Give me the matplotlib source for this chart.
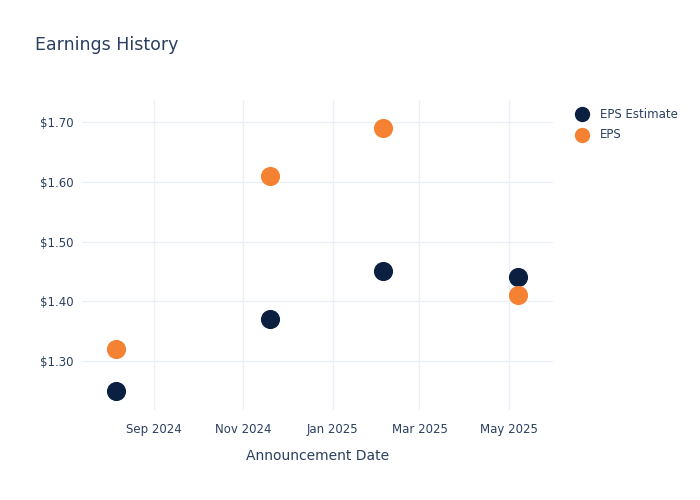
import matplotlib
matplotlib.use("Agg")
import matplotlib.pyplot as plt
import matplotlib.dates as mdates
import numpy as np
import pandas as pd

# Data
dates = pd.to_datetime(["2024-08-06", "2024-11-19", "2025-02-04", "2025-05-07"])
epsEstimate = [1.25, 1.37, 1.45, 1.44]
epsActual = [1.32, 1.61, 1.69, 1.41]
yTicks = [1.30, 1.40, 1.50, 1.60, 1.70]
xTicks = pd.to_datetime(["2024-09-01", "2024-11-01", "2025-01-01", "2025-03-01", "2025-05-01"])

textColor = "#2a3f5f"
gridColor = "#ebf0f8"
navy = "#0b1f41"
orange = "#f58233"

fig = plt.figure(figsize=(7, 5), dpi=100)
ax = fig.add_axes([0.117, 0.18, 0.673, 0.62])

ax.scatter(dates, epsEstimate, s=190, color=navy, label="EPS Estimate", zorder=3, linewidths=0)
ax.scatter(dates, epsActual, s=190, color=orange, label="EPS", zorder=3, linewidths=0)

ax.set_xlim(pd.Timestamp("2024-07-14"), pd.Timestamp("2025-05-31"))
ax.set_ylim(1.218, 1.737)

ax.set_xticks(xTicks)
ax.xaxis.set_major_formatter(mdates.DateFormatter("%b %Y"))
ax.set_yticks(yTicks)
ax.set_yticklabels(["${:.2f}".format(v) for v in yTicks])

ax.grid(True, color=gridColor, linewidth=1)
ax.set_axisbelow(True)
for side in ax.spines.values():
    side.set_visible(False)
ax.tick_params(length=0, labelsize=8.5, labelcolor=textColor, pad=6)
ax.tick_params(axis="x", pad=9.5)

ax.set_xlabel("Announcement Date", fontsize=10, color=textColor, labelpad=9)

fig.text(0.05, 0.91, "Earnings History", fontsize=12.5, color=textColor, va="center")

leg = ax.legend(loc="upper left", bbox_to_anchor=(1.015, 1.01), frameon=False,
                fontsize=8.5, labelcolor=textColor, handletextpad=0.5,
                labelspacing=0.6, markerscale=0.8)

fig.savefig("out.png", dpi=100)
